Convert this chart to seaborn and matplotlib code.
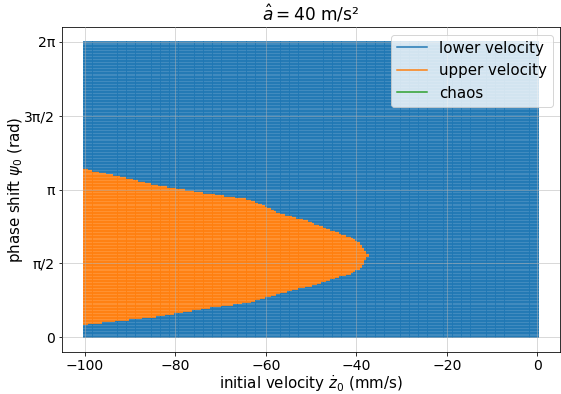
import numpy as np
import pandas as pd
import matplotlib
matplotlib.use("Agg")
import matplotlib.pyplot as plt
from matplotlib.lines import Line2D
import seaborn as sns

# Grid of initial conditions
velocities = np.linspace(-100, 0, 201)          # mm/s
phases = np.linspace(0, 2 * np.pi, 201)        # rad

# Boundary of the "upper velocity" basin (psi in units of pi)
boundary_v = [-100.0, -83.2, -74.4, -63.5, -56.9, -50.3, -46.0, -41.6, -39.4, -37.2]
boundary_upper = [1.144, 1.026, 0.983, 0.936, 0.841, 0.786, 0.732, 0.685, 0.644, 0.556]
boundary_lower = [0.088, 0.144, 0.190, 0.237, 0.300, 0.346, 0.390, 0.427, 0.461, 0.556]

labels = ["lower velocity", "upper velocity", "chaos"]
colors = ["#1f77b4", "#ff7f0e", "#2ca02c"]

V, P = np.meshgrid(velocities, phases)
V = V.ravel(); P = P.ravel()
up = np.interp(V, boundary_v, boundary_upper) * np.pi
lo = np.interp(V, boundary_v, boundary_lower) * np.pi
inside = (V <= boundary_v[-1]) & (P >= lo) & (P <= up)
state = np.where(inside, labels[1], labels[0])
df = pd.DataFrame({"v": V, "psi": P, "state": state})

fig = plt.figure(figsize=(561 / 72, 394 / 72), dpi=72)
ax = fig.add_axes([62 / 561, 42 / 394, 498 / 561, 325 / 394])
sns.scatterplot(data=df, x="v", y="psi", hue="state",
                palette={labels[0]: colors[0], labels[1]: colors[1]},
                marker="s", s=6, linewidth=0, alpha=0.85, legend=False, ax=ax,
                rasterized=True)

ax.set_xticks([-100, -80, -60, -40, -20, 0])
ax.set_yticks([0, np.pi / 2, np.pi, 3 * np.pi / 2, 2 * np.pi])
ax.set_yticklabels(["0", "π/2", "π", "3π/2", "2π"])
ax.tick_params(labelsize=14)
ax.set_xlabel(r"initial velocity $\dot{z}_0$ (mm/s)", fontsize=15)
ax.set_ylabel(r"phase shift $\psi_0$ (rad)", fontsize=15)
ax.xaxis.set_label_coords(0.5, -0.066)
ax.yaxis.set_label_coords(-0.074, 0.5)
ax.set_title(r"$\hat{a} = 40$ m/s²", fontsize=17)
ax.set_axisbelow(False)
ax.grid(True, color="#b0b0b0", linewidth=0.8, alpha=0.6)

handles = [Line2D([0], [0], color=c, lw=1.5) for c in colors]
ax.legend(handles, labels, loc="upper right", fontsize=15)

fig.savefig("out.png", dpi=72)
